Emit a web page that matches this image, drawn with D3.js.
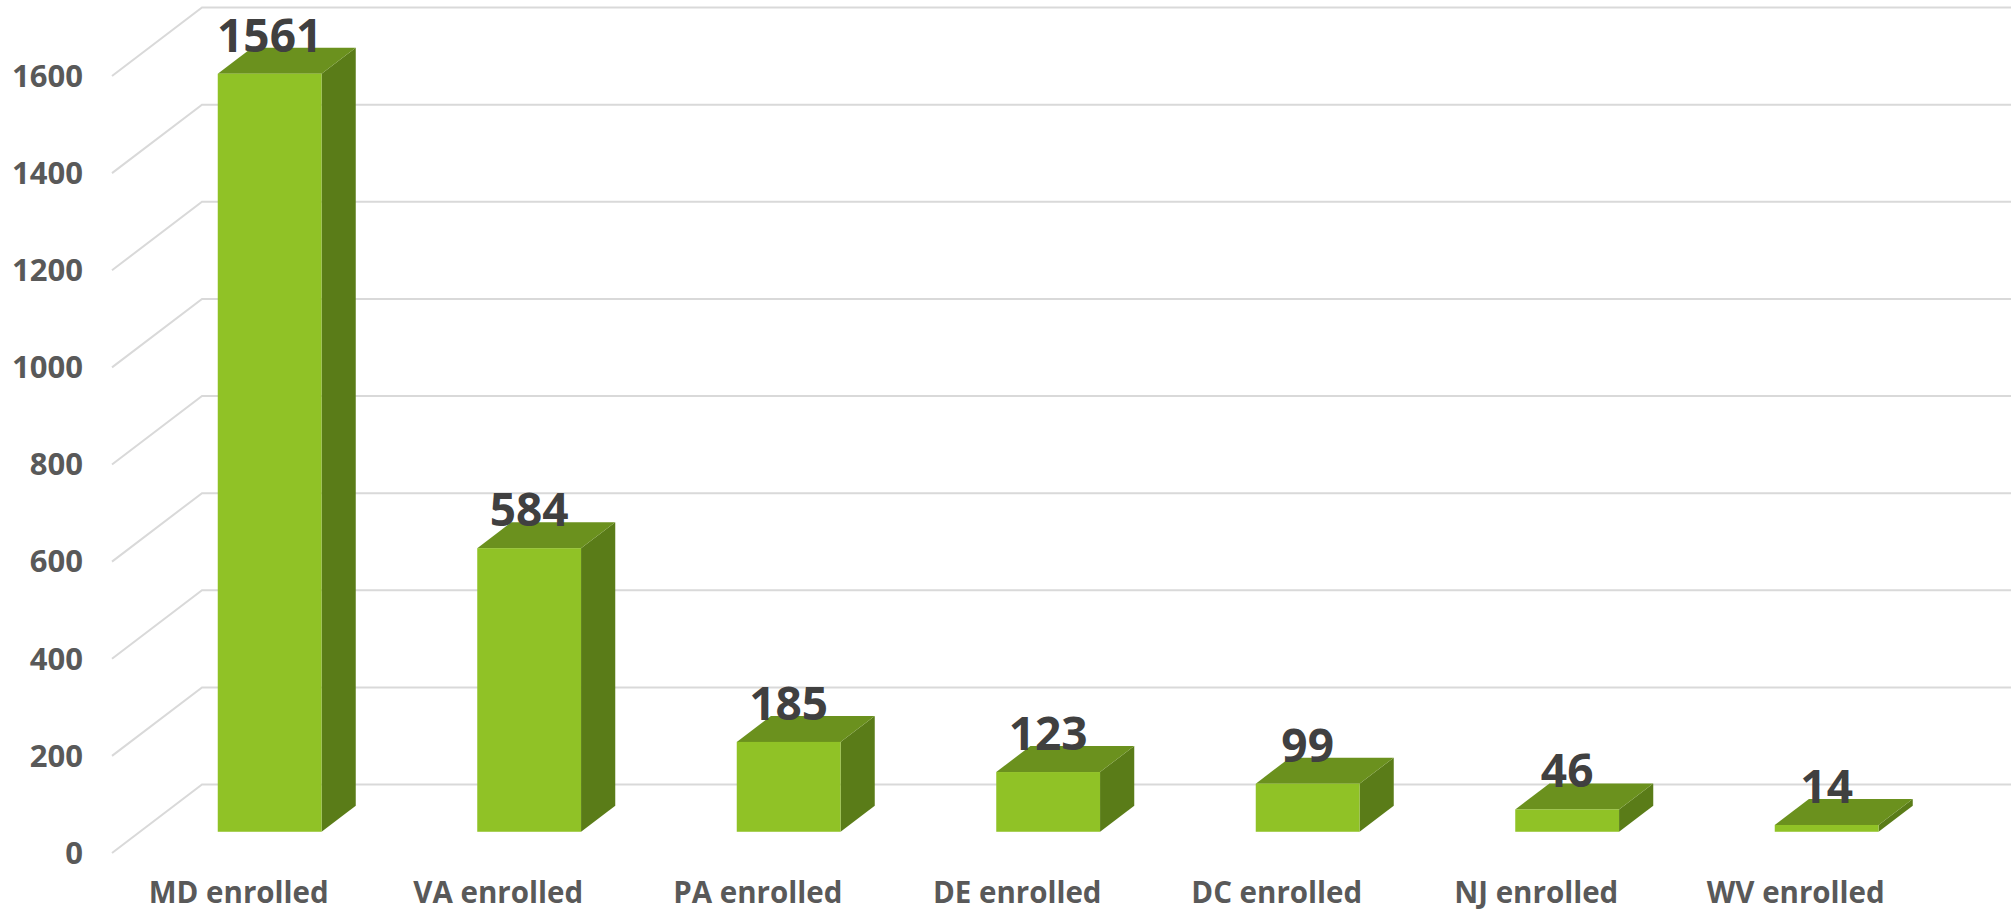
<!DOCTYPE html>
<html>
<head>
<meta charset="utf-8">
<script src="https://cdn.jsdelivr.net/npm/d3@7"></script>
<style>
  html, body { margin: 0; padding: 0; background: #ffffff; }
  svg { display: block; }
  text { font-family: "Open Sans", "DejaVu Sans", sans-serif; font-weight: 700; }
</style>
</head>
<body>
<svg id="chart" width="2011" height="911"></svg>
<script>
// Enrollment counts by state
const categories = ["MD enrolled", "VA enrolled", "PA enrolled", "DE enrolled", "DC enrolled", "NJ enrolled", "WV enrolled"];
const values = [1561, 584, 185, 123, 99, 46, 14];
const yTicks = [0, 200, 400, 600, 800, 1000, 1200, 1400, 1600];

const W = 2011, H = 911;
const svg = d3.select("#chart");

// Front plane of the oblique 3D box
const x = d3.scaleBand()
  .domain(categories)
  .range([112, 1928.5])
  .paddingInner(0.6)
  .paddingOuter(0.3);
const y = d3.scaleLinear().domain([0, 1600]).range([853, 76]);

// Depth vector (front plane -> back wall)
const depth = { dx: 90, dy: -68.5 };
const f0 = 0.31, f1 = 0.69;   // bar front / back depth fractions

const colors = { front: "#90c226", top: "#6b911e", side: "#5a7c18" };

// Gridlines: diagonal on the left side wall, horizontal on the back wall
const grid = svg.append("g").attr("stroke", "#d9d9d9").attr("stroke-width", 2).attr("fill", "none");
yTicks.forEach(t => {
  const yf = y(t);
  grid.append("path")
    .attr("d", `M${112},${yf}L${112 + depth.dx},${yf + depth.dy}L${W},${yf + depth.dy}`);
});

// Y tick labels
svg.append("g").selectAll("text")
  .data(yTicks)
  .join("text")
  .attr("x", 83)
  .attr("y", d => y(d))
  .attr("dy", "0.35em")
  .attr("text-anchor", "end")
  .attr("font-size", 31)
  .attr("fill", "#595959")
  .text(d => d);

// Bars
const bw = x.bandwidth();
const bars = svg.append("g").selectAll("g")
  .data(categories.map((c, i) => ({ c, v: values[i] })))
  .join("g");

function pts(arr) { return arr.map(p => p.join(",")).join(" "); }

bars.each(function(d) {
  const g = d3.select(this);
  const x0 = x(d.c) + f0 * depth.dx;
  const x1 = x0 + bw;
  const yb = y(0) + f0 * depth.dy;
  const yt = y(d.v) + f0 * depth.dy;
  const ddx = (f1 - f0) * depth.dx, ddy = (f1 - f0) * depth.dy;

  // side face
  g.append("polygon")
    .attr("points", pts([[x1, yt], [x1 + ddx, yt + ddy], [x1 + ddx, yb + ddy], [x1, yb]]))
    .attr("fill", colors.side);
  // top face
  g.append("polygon")
    .attr("points", pts([[x0, yt], [x1, yt], [x1 + ddx, yt + ddy], [x0 + ddx, yt + ddy]]))
    .attr("fill", colors.top);
  // front face
  g.append("rect")
    .attr("x", x0).attr("y", yt)
    .attr("width", bw).attr("height", yb - yt)
    .attr("fill", colors.front);
});

// Value labels
svg.append("g").selectAll("text")
  .data(categories.map((c, i) => ({ c, v: values[i] })))
  .join("text")
  .attr("x", d => x(d.c) + f0 * depth.dx + bw / 2)
  .attr("y", d => y(d.v) + f0 * depth.dy - 22)
  .attr("text-anchor", "middle")
  .attr("font-size", 46)
  .attr("fill", "#404040")
  .text(d => d.v);

// Category labels
svg.append("g").selectAll("text")
  .data(categories)
  .join("text")
  .attr("x", d => x(d) + bw / 2 - 3)
  .attr("y", 903)
  .attr("text-anchor", "middle")
  .attr("font-size", 29.5)
  .attr("fill", "#595959")
  .text(d => d);
</script>
</body>
</html>
